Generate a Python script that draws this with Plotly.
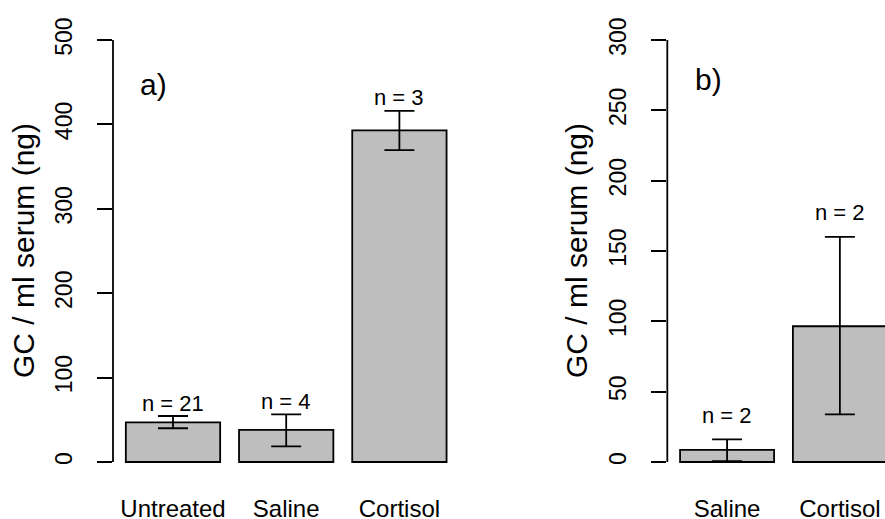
import plotly.graph_objects as go

# ---- data ----
cats_a = ["Untreated", "Saline", "Cortisol"]
mean_a = [47, 38, 393]
err_up_a = [7.5, 18.5, 23]
err_dn_a = [7, 19.5, 23.5]
n_a = ["n = 21", "n = 4", "n = 3"]

cats_b = ["Saline", "Cortisol"]
mean_b = [8.6, 96.5]
err_up_b = [7.5, 63.5]
err_dn_b = [8.0, 62.7]
n_b = ["n = 2", "n = 2"]

ticks_a = [0, 100, 200, 300, 400, 500]
ticks_b = [0, 50, 100, 150, 200, 250, 300]
ytitle = "GC / ml serum (ng)"

FONT = "Liberation Sans, Arial, sans-serif"
GRAY = "#BEBEBE"
LW = 1.8
BARW = 1 / 1.2

W, H = 885, 519


def px(x):
    return x / W


def py(y):
    return (H - y) / H


fig = go.Figure()

fig.add_trace(go.Bar(
    x=cats_a, y=mean_a, width=BARW,
    marker=dict(color=GRAY, line=dict(color="black", width=LW)),
    error_y=dict(type="data", symmetric=False, array=err_up_a, arrayminus=err_dn_a,
                 color="black", thickness=LW, width=15),
    xaxis="x", yaxis="y", showlegend=False, hoverinfo="skip"))

fig.add_trace(go.Bar(
    x=cats_b, y=mean_b, width=BARW,
    marker=dict(color=GRAY, line=dict(color="black", width=LW)),
    error_y=dict(type="data", symmetric=False, array=err_up_b, arrayminus=err_dn_b,
                 color="black", thickness=LW, width=15),
    xaxis="x2", yaxis="y2", showlegend=False, hoverinfo="skip"))

ydom = [py(478.9), py(23.1)]
common_x = dict(showline=False, showgrid=False, zeroline=False, automargin=False,
                ticks="outside", ticklen=8, tickcolor="rgba(0,0,0,0)",
                ticklabeloverflow="allow",
                tickfont=dict(family=FONT, size=24, color="black"))
common_y = dict(showline=False, showgrid=False, zeroline=False, automargin=False,
                ticks="outside", ticklen=15, tickwidth=LW, tickcolor="black",
                tickangle=-90, ticklabelstandoff=16,
                tickfont=dict(family=FONT, size=23, color="black"))

fig.update_layout(
    template="none",
    width=W, height=H, autosize=False,
    margin=dict(l=0, r=0, t=0, b=0, pad=0),
    paper_bgcolor="white", plot_bgcolor="white",
    xaxis=dict(domain=[px(113), px(459.4)], range=[-0.53, 2.53],
               type="category", anchor="y", **common_x),
    yaxis=dict(domain=ydom, range=[-20, 520], tickvals=ticks_a,
               anchor="x", **common_y),
    xaxis2=dict(domain=[px(667.3), 1.0], range=[-0.53, 1.40],
                type="category", anchor="y2", **common_x),
    yaxis2=dict(domain=ydom, range=[-12, 312], tickvals=ticks_b,
                anchor="x2", **common_y),
)

# y axis lines spanning the tick range (R style)
fig.add_shape(type="line", xref="x domain", yref="y", x0=0, x1=0,
              y0=ticks_a[0], y1=ticks_a[-1], line=dict(color="black", width=LW))
fig.add_shape(type="line", xref="x2 domain", yref="y2", x0=0, x1=0,
              y0=ticks_b[0], y1=ticks_b[-1], line=dict(color="black", width=LW))

# n labels
for c, m, u, t in zip(cats_a, mean_a, err_up_a, n_a):
    fig.add_annotation(x=c, y=m + u, xref="x", yref="y", text=t, showarrow=False,
                       yanchor="middle", yshift=13,
                       font=dict(family=FONT, size=22, color="black"))
for c, m, u, t in zip(cats_b, mean_b, err_up_b, n_b):
    fig.add_annotation(x=c, y=m + u, xref="x2", yref="y2", text=t, showarrow=False,
                       yanchor="middle", yshift=24,
                       font=dict(family=FONT, size=22, color="black"))

# panel letters
fig.add_annotation(x=px(153), y=py(84), xref="paper", yref="paper",
                   text="a)", showarrow=False, xanchor="center", yanchor="middle",
                   font=dict(family=FONT, size=30, color="black"))
fig.add_annotation(x=px(708), y=py(79), xref="paper", yref="paper",
                   text="b)", showarrow=False, xanchor="center", yanchor="middle",
                   font=dict(family=FONT, size=30, color="black"))

# y titles
for xw in (24, 577):
    fig.add_annotation(x=px(xw), y=py(251), xref="paper", yref="paper",
                       text=ytitle, showarrow=False, textangle=-90,
                       xanchor="center", yanchor="middle",
                       font=dict(family=FONT, size=30, color="black"))

fig.write_html(
    "out.html",
    config={"displayModeBar": False, "staticPlot": True},
    post_script="document.body.style.margin='0';document.body.style.overflow='hidden';",
)
